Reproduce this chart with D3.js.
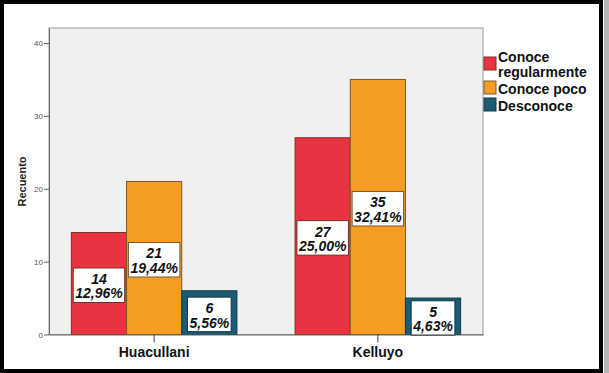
<!DOCTYPE html>
<html>
<head>
<meta charset="utf-8">
<script src="https://cdn.jsdelivr.net/npm/d3@7"></script>
<style>
  body { margin: 0; background: #fff; }
  svg { display: block; font-family: "Liberation Sans", Arial, sans-serif; }
</style>
</head>
<body>
<svg id="chart" width="609" height="373"></svg>
<script>
// data
var groups = ["Huacullani", "Kelluyo"];
var series = ["Conoce regularmente", "Conoce poco", "Desconoce"];
var legendLines = [["Conoce", "regularmente"], ["Conoce poco"], ["Desconoce"]];
var counts = {
    "Huacullani": [14, 21, 6],
    "Kelluyo": [27, 35, 5]
};
var percents = {
    "Huacullani": ["12,96%", "19,44%", "5,56%"],
    "Kelluyo": ["25,00%", "32,41%", "4,63%"]
};
var yTicks = [0, 10, 20, 30, 40];
var colors = ["#ea3340", "#f59d22", "#1c5b73"];
var strokes = ["#7a2e26", "#7d5630", "#0d3a4a"];

var svg = d3.select("#chart");

// frame like the screenshot
svg.append("rect").attr("x", 0).attr("y", 0).attr("width", 609).attr("height", 373).attr("fill", "#fff");
svg.append("rect").attr("x", 604).attr("y", 0).attr("width", 5).attr("height", 373).attr("fill", "#b5b5b5");
svg.append("rect").attr("x", 2).attr("y", 2).attr("width", 599).attr("height", 369)
    .attr("fill", "none").attr("stroke", "#000").attr("stroke-width", 4);

var plotLeft = 49, plotRight = 483, plotTop = 28, plotBottom = 334.5;

var x = d3.scaleBand().domain(groups).range([plotLeft, plotRight]).paddingInner(0.26).paddingOuter(0.1);
var xs = d3.scaleBand().domain(d3.range(series.length)).range([0, x.bandwidth()]).padding(0);
var y = d3.scaleLinear().domain([0, 42.06]).range([plotBottom, plotTop]);

// plot area
svg.append("rect")
    .attr("x", plotLeft).attr("y", plotTop)
    .attr("width", plotRight - plotLeft).attr("height", plotBottom - plotTop)
    .attr("fill", "#f0f0f0").attr("stroke", "#9a9a9a").attr("stroke-width", 1);

// y axis
var yAxis = svg.append("g")
    .attr("transform", "translate(" + plotLeft + ",0)")
    .call(d3.axisLeft(y).tickValues(yTicks).tickSize(5).tickPadding(1).tickSizeOuter(0));
yAxis.select(".domain").attr("stroke", "#666");
yAxis.selectAll(".tick line").attr("stroke", "#666");
yAxis.selectAll(".tick text").attr("fill", "#555").style("font-size", "8px")
    .style("font-family", "'Liberation Sans', Arial, sans-serif");

svg.append("text")
    .attr("transform", "translate(26," + y(21) + ") rotate(-90)")
    .attr("text-anchor", "middle")
    .style("font-size", "11px").style("font-weight", "bold").attr("fill", "#222")
    .text("Recuento");

// bars
var gGroups = svg.append("g").selectAll("g")
    .data(groups).enter().append("g")
    .attr("transform", function(d) { return "translate(" + x(d) + ",0)"; });

gGroups.selectAll("rect")
    .data(function(g) { return counts[g].map(function(v, i) { return {g: g, i: i, v: v}; }); })
    .enter().append("rect")
    .attr("x", function(d) { return xs(d.i); })
    .attr("y", function(d) { return y(d.v); })
    .attr("width", xs.bandwidth())
    .attr("height", function(d) { return plotBottom - y(d.v); })
    .attr("fill", function(d) { return colors[d.i]; })
    .attr("stroke", function(d) { return strokes[d.i]; })
    .attr("stroke-width", 1);

// x axis
var xAxis = svg.append("g")
    .attr("transform", "translate(0," + plotBottom + ")")
    .call(d3.axisBottom(x).tickSize(8).tickPadding(5).tickSizeOuter(0));
xAxis.select(".domain").attr("stroke", "#666");
xAxis.selectAll(".tick line").attr("stroke", "#444");
xAxis.selectAll(".tick text").attr("fill", "#111")
    .style("font-size", "14px").style("font-weight", "bold")
    .style("font-family", "'Liberation Sans', Arial, sans-serif");

// value labels
var labels = gGroups.selectAll("g.lab")
    .data(function(g) { return counts[g].map(function(v, i) { return {g: g, i: i, v: v}; }); })
    .enter().append("g").attr("class", "lab")
    .attr("transform", function(d) {
        return "translate(" + (xs(d.i) + xs.bandwidth() / 2) + "," + (y(d.v / 2) + 2) + ")";
    });

var box = labels.append("rect").attr("fill", "#fff")
    .attr("stroke", function(d) { return strokes[d.i]; }).attr("stroke-width", 1);

labels.append("text").attr("class", "l1")
    .attr("text-anchor", "middle").attr("y", -1.5)
    .style("font-size", "14px").style("font-weight", "bold").style("font-style", "italic")
    .attr("fill", "#111")
    .text(function(d) { return d.v; });
labels.append("text").attr("class", "l2")
    .attr("text-anchor", "middle").attr("y", 13)
    .style("font-size", "14px").style("font-weight", "bold").style("font-style", "italic")
    .attr("fill", "#111")
    .text(function(d) { return percents[d.g][d.i]; });

box.each(function(d) {
    var p = d3.select(this.parentNode);
    var w = p.select(".l2").node().getComputedTextLength() + 4;
    d3.select(this).attr("x", -w / 2).attr("y", -17.5).attr("width", w).attr("height", 34.5);
});

// legend
var lg = svg.append("g");
var legendY = [57, 81, 98];
var legendBase = [[62, 76.5], [94], [111]];
series.forEach(function(s, i) {
    lg.append("rect").attr("x", 484).attr("y", legendY[i]).attr("width", 12).attr("height", 13)
        .attr("fill", colors[i]).attr("stroke", strokes[i]).attr("stroke-width", 1);
    legendLines[i].forEach(function(line, j) {
        lg.append("text").attr("x", 498).attr("y", legendBase[i][j])
            .style("font-size", "14px").style("font-weight", "bold").attr("fill", "#111")
            .text(line);
    });
});
</script>
</body>
</html>
